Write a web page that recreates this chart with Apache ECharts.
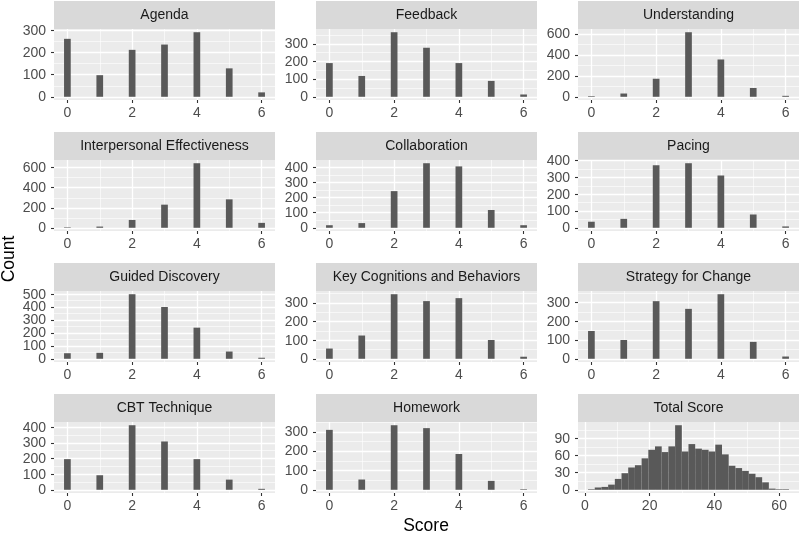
<!DOCTYPE html>
<html><head><meta charset="utf-8">
<script src="https://cdn.jsdelivr.net/npm/echarts@6/dist/echarts.min.js"></script>
<style>html,body{margin:0;padding:0;background:#fff}#c{width:800px;height:534px}</style>
</head><body><div id="c"></div>
<script>
// ---------- data ----------
const panelTitles = ["Agenda","Feedback","Understanding","Interpersonal Effectiveness","Collaboration","Pacing","Guided Discovery","Key Cognitions and Behaviors","Strategy for Change","CBT Technique","Homework","Total Score"];
const itemScores = [0,1,2,3,4,5,6];
const agenda            = [263, 98,213,237,293,129,20];
const feedback          = [191,118,366,278,191, 90,13];
const understanding     = [  6, 31,172,616,356, 84, 9];
const interpersonal     = [  5, 12, 78,231,645,284,49];
const collaboration     = [ 17, 31,243,428,407,118,17];
const pacing            = [ 36, 53,372,384,311, 79, 8];
const guidedDiscovery   = [ 43, 46,500,401,241, 56, 8];
const keyCognitions     = [ 55,125,347,310,326,101,11];
const strategyForChange = [148,100,307,266,344, 90,12];
const cbtTechnique      = [196, 93,413,309,196, 65, 6];
const homework          = [310, 53,334,319,185, 46, 3];
const totalBinCenters = [2,4.07,6.14,8.21,10.28,12.34,14.41,16.48,18.55,20.62,22.69,24.76,26.83,28.9,30.97,33.03,35.1,37.17,39.24,41.31,43.38,45.45,47.52,49.59,51.66,53.72,55.79,57.86,59.93,62];
const totalCounts     = [1,4,5,9,19,29,39,43,55,70,76,66,76,113,67,80,72,70,67,79,62,42,38,33,28,22,13,2,1,1];
const itemXTicks = [0,2,4,6];
const itemXMinor = [1,3,5];
const totalXTicks = [0,20,40,60];
const totalXMinor = [10,30,50];
const yTicksList = [
  [0,100,200,300],[0,100,200,300],[0,200,400,600],
  [0,200,400,600],[0,100,200,300,400],[0,100,200,300,400],
  [0,100,200,300,400,500],[0,100,200,300],[0,100,200,300],
  [0,100,200,300,400],[0,100,200,300],[0,30,60,90]
];
const itemSeries = [agenda,feedback,understanding,interpersonal,collaboration,pacing,guidedDiscovery,keyCognitions,strategyForChange,cbtTechnique,homework];

// ---------- layout ----------
const colLeft = [54,316,578], panelW = 221;
const rowTop = [1,132,263,394], stripH = 28, panelH = 71;
const FONT = "'Liberation Sans', Arial, Helvetica, sans-serif";
const BAR = '#595959';

const grids=[], xAxes=[], yAxes=[], series=[], graphics=[];
const itemBW = (itemScores[itemScores.length-1]-itemScores[0])/29;
const totalBW = (totalBinCenters[totalBinCenters.length-1]-totalBinCenters[0])/29;

function renderBar(params, api){
  const p0 = api.coord([api.value(0), api.value(2)]);
  const p1 = api.coord([api.value(1), 0]);
  return {type:'rect', shape:{x:p0[0], y:p0[1], width:p1[0]-p0[0], height:p1[1]-p0[1]}, style:{fill:BAR}};
}

for (let i=0;i<12;i++){
  const r = Math.floor(i/3), c = i%3;
  const L = colLeft[c], T = rowTop[r];
  grids.push({left:L, top:T+stripH, width:panelW, height:panelH, show:true, backgroundColor:'#EBEBEB', borderWidth:0, containLabel:false, outerBoundsMode:'none'});
  graphics.push({type:'rect', shape:{x:L, y:T, width:panelW, height:stripH}, style:{fill:'#D9D9D9'}, silent:true});
  graphics.push({type:'text', x:L+panelW/2, y:T+stripH/2+0.5, style:{text:panelTitles[i], align:'center', verticalAlign:'middle', fill:'#1A1A1A', font:'14px '+FONT}, silent:true});

  const isTotal = i===11;
  let data, xmin, xmax, xt, xm;
  if (isTotal){
    data = totalBinCenters.map((x,k)=>[x-totalBW/2, x+totalBW/2, totalCounts[k]]);
    const lo = totalBinCenters[0]-totalBW/2, hi = totalBinCenters[totalBinCenters.length-1]+totalBW/2;
    xmin = lo-0.05*(hi-lo); xmax = hi+0.05*(hi-lo); xt = totalXTicks; xm = totalXMinor;
  } else {
    const vals = itemSeries[i];
    data = itemScores.map((x,k)=>[x-itemBW/2, x+itemBW/2, vals[k]]);
    const lo = itemScores[0]-itemBW/2, hi = itemScores[itemScores.length-1]+itemBW/2;
    xmin = lo-0.05*(hi-lo); xmax = hi+0.05*(hi-lo); xt = itemXTicks; xm = itemXMinor;
  }
  const M = Math.max(...data.map(d=>d[2]));
  const ymin = -0.05*M, ymax = 1.05*M;
  const yt = yTicksList[i];
  const step = yt[1]-yt[0];
  const ym = [];
  for (let k=0;k<yt.length;k++){ const v = yt[k]+step/2; if (v<=ymax) ym.push(v); }

  xAxes.push({type:'value', gridIndex:i, position:'bottom', min:xmin, max:xmax,
    axisLine:{show:false, onZero:false},
    axisTick:{show:true, length:3, lineStyle:{color:'#333333', width:1.1}, customValues:xt},
    axisLabel:{customValues:xt, margin:6, color:'#4D4D4D', fontSize:14, fontFamily:FONT, showMinLabel:true, showMaxLabel:true},
    splitLine:{show:true, lineStyle:{color:'#FFFFFF', width:1.3}}});
  xAxes.push({type:'value', gridIndex:i, position:'top', min:xmin, max:xmax,
    axisLine:{show:false, onZero:false}, axisTick:{show:false, customValues:xm}, axisLabel:{show:false, customValues:xm},
    splitLine:{show:true, lineStyle:{color:'#FFFFFF', width:0.6}}});
  yAxes.push({type:'value', gridIndex:i, position:'left', min:ymin, max:ymax,
    axisLine:{show:false, onZero:false},
    axisTick:{show:true, length:3, lineStyle:{color:'#333333', width:1.1}, customValues:yt},
    axisLabel:{show:false, customValues:yt},
    splitLine:{show:true, lineStyle:{color:'#FFFFFF', width:1.3}}});
  yAxes.push({type:'value', gridIndex:i, position:'right', min:ymin, max:ymax,
    axisLine:{show:false, onZero:false}, axisTick:{show:false, customValues:ym}, axisLabel:{show:false, customValues:ym},
    splitLine:{show:true, lineStyle:{color:'#FFFFFF', width:0.6}}});
  series.push({type:'custom', xAxisIndex:2*i, yAxisIndex:2*i, renderItem:renderBar,
    encode:{x:[0,1], y:2}, data:data, clip:true, silent:true});
}

graphics.push({type:'text', x:9, y:259, rotation:Math.PI/2, style:{text:'Count', align:'center', verticalAlign:'middle', fill:'#000', font:'17.5px '+FONT}, silent:true});
graphics.push({type:'text', x:426, y:526, style:{text:'Score', align:'center', verticalAlign:'middle', fill:'#000', font:'17.5px '+FONT}, silent:true});

const chart = echarts.init(document.getElementById('c'), null, {renderer:'canvas'});
chart.setOption({animation:false, backgroundColor:'#FFFFFF', grid:grids, xAxis:xAxes, yAxis:yAxes, series:series, graphic:graphics});

// y tick labels placed through the y scales (tightly packed labels, as in the reference)
const labelGraphics = [];
for (let i=0;i<12;i++){
  const L = colLeft[i%3];
  yTicksList[i].forEach(v=>{
    const py = chart.convertToPixel({yAxisIndex:2*i}, v);
    labelGraphics.push({type:'text', x:L-8, y:py+0.5, style:{text:String(v), align:'right', verticalAlign:'middle', fill:'#4D4D4D', font:'14px '+FONT}, silent:true});
  });
}
chart.setOption({graphic:graphics.concat(labelGraphics)});
</script></body></html>
